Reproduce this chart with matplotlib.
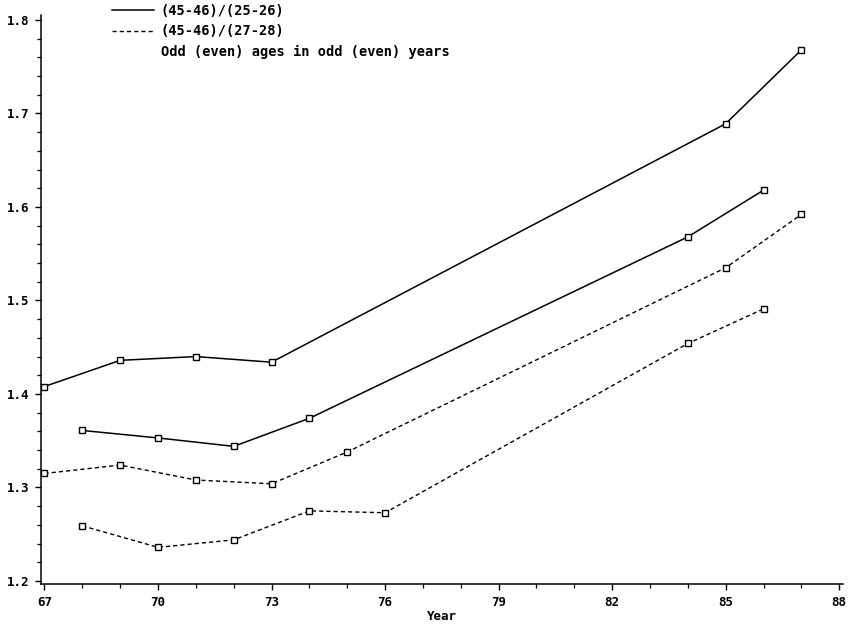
#!/usr/bin/env python3
"""
Ratio of wages (45-46) to (25-26) and (27-28) by year, odd/even ages.
"""

import matplotlib
matplotlib.use("Agg")
import matplotlib.pyplot as plt
from matplotlib.lines import Line2D
from matplotlib.ticker import MultipleLocator

# Data
years_odd_a = [67, 69, 71, 73, 85, 87]
ratio_25_odd = [1.408, 1.436, 1.440, 1.434, 1.689, 1.768]

years_even_a = [68, 70, 72, 74, 84, 86]
ratio_25_even = [1.361, 1.353, 1.344, 1.374, 1.568, 1.618]

years_odd_b = [67, 69, 71, 73, 75, 85, 87]
ratio_27_odd = [1.315, 1.324, 1.308, 1.304, 1.338, 1.535, 1.592]

years_even_b = [68, 70, 72, 74, 76, 84, 86]
ratio_27_even = [1.259, 1.236, 1.244, 1.275, 1.273, 1.454, 1.491]

x_ticks = [67, 70, 73, 76, 79, 82, 85, 88]
y_ticks = [1.2, 1.3, 1.4, 1.5, 1.6, 1.7, 1.8]

FONT = "DejaVu Sans Mono"
plt.rcParams["font.family"] = FONT
plt.rcParams["font.weight"] = "bold"

W, H = 851, 627
fig = plt.figure(figsize=(W / 100, H / 100), dpi=100)
ax_h = 584 - 15
ax = fig.add_axes([40.7 / W, 1 - 584 / H, (843 - 40.7) / W, ax_h / H])

mstyle = dict(marker="s", markersize=4.2, markerfacecolor="white",
              markeredgecolor="black", markeredgewidth=1.0, color="black")

for xs, ys in [(years_odd_a, ratio_25_odd), (years_even_a, ratio_25_even)]:
    ax.plot(xs, ys, linestyle="-", linewidth=1.1, **mstyle)

for xs, ys in [(years_odd_b, ratio_27_odd), (years_even_b, ratio_27_even)]:
    ax.plot(xs, ys, linestyle=(0, (3, 2.2)), linewidth=1.0, **mstyle)

ax.set_xlim(66.9, 88.1)
ax.set_ylim(1.1968, 1.8053)

ax.set_xticks(x_ticks)
ax.set_xticklabels([str(t) for t in x_ticks])
ax.xaxis.set_minor_locator(MultipleLocator(1))
ax.set_yticks(y_ticks)
ax.set_yticklabels([f"{t:.1f}" for t in y_ticks])
ax.yaxis.set_minor_locator(MultipleLocator(0.02))

ax.tick_params(axis="both", which="major", direction="out", length=4,
               width=1.0, labelsize=9)
ax.tick_params(axis="x", which="major", pad=5)
ax.tick_params(axis="y", which="major", pad=4)
ax.tick_params(axis="both", which="minor", direction="out", length=3, width=0.9)

for side in ("top", "right"):
    ax.spines[side].set_visible(False)
for side in ("left", "bottom"):
    ax.spines[side].set_linewidth(1.1)

ax.set_xlabel("Year", fontsize=9, fontweight="bold", va="center")
ax.xaxis.set_label_coords(0.5, -(617 - 584) / ax_h)

# Legend at the top
handles = [
    Line2D([], [], color="black", linewidth=1.1),
    Line2D([], [], color="black", linewidth=1.0, linestyle=(0, (3, 2.2))),
    Line2D([], [], color="none"),
]
labels = ["(45-46)/(25-26)", "(45-46)/(27-28)",
          "Odd (even) ages in odd (even) years"]
fig.legend(handles, labels, loc="upper left",
           bbox_to_anchor=(102 / W, 1 + 6 / H), frameon=False,
           fontsize=9.8, handlelength=3.1, handletextpad=0.5,
           labelspacing=0.5, borderpad=0.2)

fig.savefig("out.png", dpi=100)
